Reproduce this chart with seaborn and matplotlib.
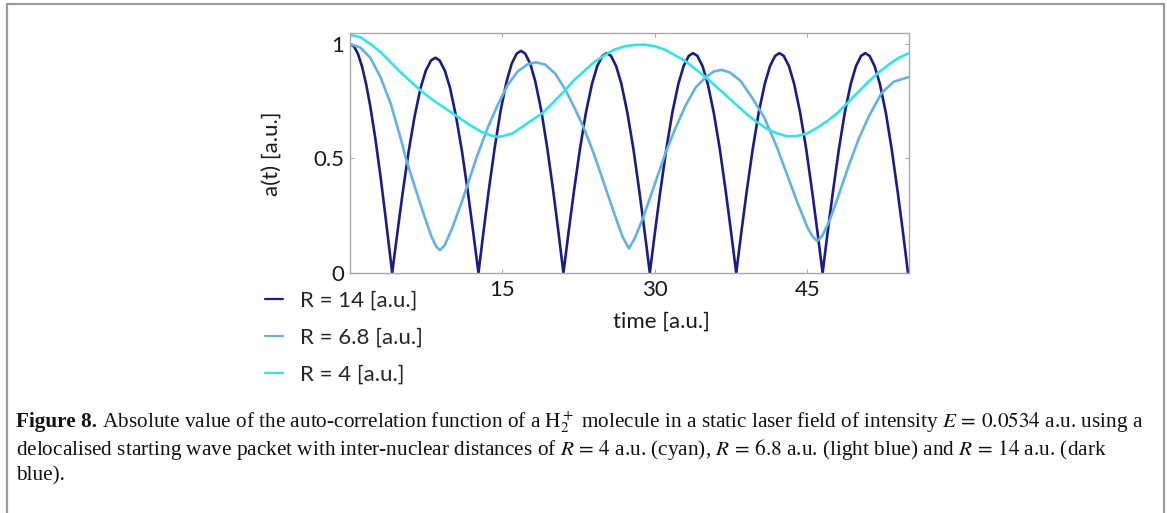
import numpy as np
import pandas as pd
import matplotlib
matplotlib.use("Agg")
import matplotlib.pyplot as plt
import seaborn as sns
from matplotlib.lines import Line2D

# ---------------- data ----------------
t_r14 = [0, 0.4, 0.8, 1.2, 1.6, 2.0, 2.5, 3.0, 3.5, 4.15,
         4.66, 5.17, 5.76, 6.36, 6.95, 7.46, 7.97, 8.40, 8.82, 9.33, 9.84, 10.43, 11.03, 11.62, 12.13, 12.64,
         13.14, 13.64, 14.23, 14.81, 15.40, 15.90, 16.40, 16.82, 17.24, 17.74, 18.24, 18.83, 19.41, 20.00, 20.50, 21.0,
         21.51, 22.02, 22.62, 23.21, 23.81, 24.32, 24.83, 25.25, 25.68, 26.19, 26.70, 27.29, 27.89, 28.48, 28.99, 29.5,
         30.01, 30.52, 31.12, 31.71, 32.31, 32.82, 33.33, 33.75, 34.18, 34.69, 35.20, 35.79, 36.39, 36.98, 37.49, 38.0,
         38.51, 39.02, 39.62, 40.21, 40.81, 41.32, 41.83, 42.25, 42.68, 43.19, 43.70, 44.29, 44.89, 45.48, 45.99, 46.5,
         47.00, 47.51, 48.10, 48.68, 49.27, 49.78, 50.28, 50.70, 51.12, 51.62, 52.13, 52.72, 53.30, 53.89, 54.40, 54.9]
a_r14 = [1.0, 0.989, 0.955, 0.899, 0.822, 0.727, 0.585, 0.422, 0.243, 0.0,
         0.176, 0.346, 0.528, 0.685, 0.809, 0.884, 0.928, 0.940, 0.928, 0.884, 0.809, 0.685, 0.528, 0.346, 0.176, 0.0,
         0.182, 0.357, 0.545, 0.707, 0.835, 0.913, 0.958, 0.970, 0.958, 0.913, 0.835, 0.707, 0.545, 0.357, 0.182, 0.0,
         0.180, 0.353, 0.540, 0.700, 0.826, 0.903, 0.948, 0.960, 0.948, 0.903, 0.826, 0.700, 0.540, 0.353, 0.180, 0.0,
         0.180, 0.353, 0.540, 0.700, 0.826, 0.903, 0.948, 0.960, 0.948, 0.903, 0.826, 0.700, 0.540, 0.353, 0.180, 0.0,
         0.180, 0.353, 0.540, 0.700, 0.826, 0.903, 0.948, 0.960, 0.948, 0.903, 0.826, 0.700, 0.540, 0.353, 0.180, 0.0,
         0.180, 0.353, 0.540, 0.700, 0.826, 0.903, 0.948, 0.960, 0.948, 0.903, 0.826, 0.700, 0.540, 0.353, 0.180, 0.0]

t_r68 = [0, 1.0, 2.0, 3.0, 4.0, 5.0, 5.5, 6.0, 7.0, 8.0, 8.5, 8.85, 9.3, 10.0, 11.0,
         11.6, 12.5, 13.6, 14.5, 15.5, 16.5, 17.5, 18.33, 19.2, 20.2, 21.2, 22.1, 23.0,
         24.0, 25.0, 26.0, 26.8, 27.44, 28.0, 28.86, 30.0, 31.06, 32.0, 33.0, 34.0, 35.0,
         35.8, 36.56, 37.4, 38.4, 39.5, 40.77, 42.0, 43.0, 44.0, 45.0, 45.5, 45.97, 46.5,
         47.2, 48.0, 49.0, 50.0, 51.0, 52.3, 53.5, 55.0]
a_r68 = [1.0, 0.985, 0.94, 0.855, 0.74, 0.585, 0.50, 0.43, 0.29, 0.16, 0.115, 0.10, 0.12,
         0.19, 0.31, 0.39, 0.51, 0.64, 0.73, 0.82, 0.88, 0.912, 0.92, 0.91, 0.87, 0.80,
         0.72, 0.634, 0.52, 0.39, 0.26, 0.16, 0.107, 0.15, 0.244, 0.39, 0.526, 0.63, 0.73,
         0.81, 0.855, 0.88, 0.887, 0.875, 0.84, 0.77, 0.678, 0.55, 0.43, 0.31, 0.20, 0.16,
         0.139, 0.165, 0.23, 0.33, 0.46, 0.58, 0.68, 0.786, 0.835, 0.856]

t_r4 = [0, 1, 2, 3, 4, 5, 6, 7, 8, 9, 10, 11, 12, 13, 14, 14.5, 15, 16, 17, 18, 19, 20,
        21, 22, 23, 24, 25, 26, 27, 28, 29, 30, 31, 32, 33, 34, 35, 36, 37, 38, 39, 40,
        41, 42, 43, 44, 45, 46, 47, 48, 49, 50, 51, 52, 53, 54, 55]
a_r4 = [1.04, 1.03, 1.0, 0.965, 0.92, 0.875, 0.835, 0.795, 0.76, 0.73, 0.70, 0.67, 0.64,
        0.615, 0.598, 0.595, 0.597, 0.61, 0.64, 0.67, 0.70, 0.745, 0.79, 0.84, 0.88, 0.92,
        0.95, 0.975, 0.99, 0.996, 0.997, 0.99, 0.975, 0.95, 0.925, 0.89, 0.855, 0.815,
        0.775, 0.735, 0.695, 0.66, 0.63, 0.61, 0.597, 0.598, 0.61, 0.635, 0.665, 0.70,
        0.745, 0.79, 0.835, 0.875, 0.91, 0.94, 0.96]

series_names = ["R = 14 [a.u.]", "R = 6.8 [a.u.]", "R = 4 [a.u.]"]
series_colors = ["#1c1c85", "#62b2e4", "#2ee6ea"]
x_ticks = [15, 30, 45]
y_ticks = [0, 0.5, 1]
y_ticklabels = ["0", "0.5", "1"]

caption_bold = "Figure 8."
caption_lines = [
    " Absolute value of the auto-correlation function of a $\\mathrm{H}_2^+$ molecule in a static laser field of intensity $E\\,=\\,0.0534$ a.u. using a",
    "delocalised starting wave packet with inter-nuclear distances of $R\\,=\\,4$ a.u. (cyan), $R\\,=\\,6.8$ a.u. (light blue) and $R\\,=\\,14$ a.u. (dark",
    "blue).",
]

# ---------------- build long-form table ----------------
df = pd.concat([
    pd.DataFrame({"time": t_r14, "a": a_r14, "R": series_names[0]}),
    pd.DataFrame({"time": t_r68, "a": a_r68, "R": series_names[1]}),
    pd.DataFrame({"time": t_r4, "a": a_r4, "R": series_names[2]}),
], ignore_index=True)

# ---------------- plotting ----------------
sns.set_style("white")
plt.rcParams["font.family"] = ["Lato", "DejaVu Sans"]
plt.rcParams["mathtext.fontset"] = "stix"

W, H = 1167, 513
fig = plt.figure(figsize=(W / 100, H / 100), dpi=100)
ax = fig.add_axes([350 / W, 1 - 273 / H, 559 / W, 240 / H])

sns.lineplot(data=df, x="time", y="a", hue="R", hue_order=series_names,
             palette=dict(zip(series_names, series_colors)), estimator=None,
             sort=False, linewidth=1.9, ax=ax, legend=True)

ax.set_xlim(0, 55)
ax.set_ylim(0, 1.048)
ax.set_xticks(x_ticks)
ax.set_yticks(y_ticks)
ax.set_yticklabels(y_ticklabels)

spine_c = "#a8a8a8"
for s in ax.spines.values():
    s.set_visible(True)
    s.set_color(spine_c)
    s.set_linewidth(1.0)
ax.tick_params(axis="both", which="major", direction="in", length=3, width=0.8,
               color=spine_c, top=True, right=True, bottom=True, left=True,
               labelsize=16, labelcolor="#1a1a1a")
ax.tick_params(axis="x", pad=5)
ax.tick_params(axis="y", pad=4)

ax.set_xlabel("time [a.u.]", fontsize=16, color="#1a1a1a")
ax.set_ylabel("a(t) [a.u.]", fontsize=16, color="#1a1a1a")
ax.xaxis.set_label_coords(0.558, -0.204)
ax.xaxis.label.set_va("center")
ax.yaxis.set_label_coords(-0.141, 0.496)
ax.yaxis.label.set_va("center")

handles, labels = ax.get_legend_handles_labels()
ax.get_legend().remove()
leg = fig.legend(handles, labels, loc="upper left",
                 bbox_to_anchor=(265 / W, 1 - 291 / H), frameon=False,
                 fontsize=16, handlelength=0.81, handletextpad=0.77,
                 labelspacing=0.75, borderpad=0, borderaxespad=0)
for ln in leg.get_lines():
    ln.set_linewidth(1.6)

# outer frame (left, top, right)
frame_c = "#9a9a9a"
fig.add_artist(Line2D([7 / W, 7 / W], [0, 1 - 4 / H], color=frame_c, lw=1.6,
                      transform=fig.transFigure))
fig.add_artist(Line2D([7 / W, 1164 / W], [1 - 4 / H, 1 - 4 / H], color=frame_c, lw=1.6,
                      transform=fig.transFigure))
fig.add_artist(Line2D([1164 / W, 1164 / W], [0, 1 - 4 / H], color=frame_c, lw=1.6,
                      transform=fig.transFigure))

# caption
cap_font = "Liberation Serif"
cap_size = 15.3
line_y = [422, 449, 476]
tb = fig.text(16 / W, 1 - line_y[0] / H, caption_bold, fontsize=cap_size,
              fontweight="bold", family=cap_font, va="center", ha="left", color="#111111")
fig.canvas.draw()
bb = tb.get_window_extent(renderer=fig.canvas.get_renderer())
fig.text(bb.x1 / W, 1 - line_y[0] / H, caption_lines[0], fontsize=cap_size,
         family=cap_font, va="center", ha="left", color="#111111")
for yy, txt in zip(line_y[1:], caption_lines[1:]):
    fig.text(16 / W, 1 - yy / H, txt, fontsize=cap_size, family=cap_font,
             va="center", ha="left", color="#111111")

fig.savefig("out.png", dpi=100)
